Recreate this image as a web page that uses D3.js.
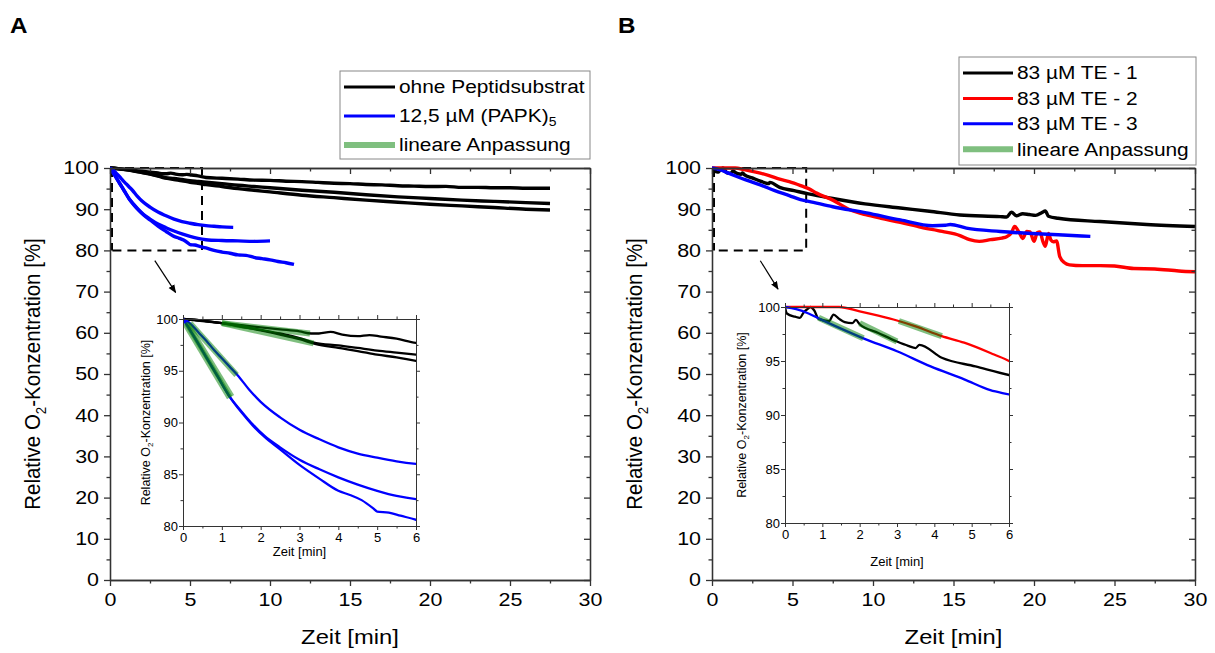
<!DOCTYPE html>
<html><head><meta charset="utf-8">
<script src="https://cdn.jsdelivr.net/npm/d3@7"></script>
<style>body{margin:0;background:#fff} svg{font-family:Arial,"Liberation Sans",sans-serif}</style>
</head><body><svg id="c" width="1215" height="653"></svg>
<script>
// ---------- DATA (time [min], relative O2 [%]) ----------
// Panel A
const ohne1 = [[0,100],[0.5,99.8],[1,99.6],[1.5,99.4],[2,99.2],[2.5,99.0],[3,98.8],[3.3,98.6],[3.5,98.6],[3.8,98.75],[4.1,98.5],[4.5,98.35],[4.8,98.45],[5.1,98.3],[5.5,98.1],[6,97.7],[7,97.5],[8,97.3],[9,97.05],[10,97.0],[11,96.8],[12,96.7],[13,96.5],[14,96.3],[15,96.2],[16,96.0],[17,95.9],[18,95.7],[19,95.6],[20,95.5],[21,95.55],[22,95.3],[23,95.3],[24,95.2],[25,95.2],[26,95.1],[27.5,95.1]];
const ohne2 = [[0,100],[0.5,99.85],[1,99.6],[1.5,99.3],[2,98.95],[2.5,98.6],[3,98.15],[3.4,97.7],[4,97.45],[4.5,97.2],[5,96.95],[5.5,96.75],[6,96.55],[7,96.2],[8,95.8],[9,95.5],[10,95.2],[12,94.6],[14,94.1],[16,93.5],[18,93.0],[20,92.6],[22,92.2],[24,91.9],[26,91.6],[27.5,91.4]];
const ohne3 = [[0,100],[0.5,99.85],[1,99.6],[1.5,99.25],[2,98.9],[2.5,98.5],[3,98.05],[3.4,97.6],[4,97.2],[4.5,96.9],[5,96.55],[5.5,96.3],[6,95.95],[7,95.5],[8,95.0],[9,94.6],[10,94.2],[12,93.4],[14,92.8],[16,92.2],[18,91.7],[20,91.2],[22,90.8],[24,90.4],[26,90.0],[27.5,89.8]];
const papk1 = [[0,100],[0.1,99.8],[0.2,99.5],[0.4,98.7],[0.6,97.9],[0.8,97.0],[1.0,96.2],[1.2,95.4],[1.4,94.6],[1.7,93.2],[2.0,92.0],[2.5,90.5],[3.0,89.3],[3.5,88.4],[4.0,87.6],[4.5,87.0],[5.0,86.6],[5.5,86.25],[6,86.0],[6.5,85.85],[7,85.7],[7.7,85.6]];
const papk2 = [[0,100],[0.07,99.6],[0.3,98.2],[0.6,96.3],[0.9,94.4],[1.2,92.5],[1.5,91.1],[1.8,89.8],[2.1,88.7],[2.5,87.6],[3.0,86.4],[3.5,85.5],[4.0,84.7],[4.5,84.0],[5.0,83.4],[5.5,82.9],[6,82.6],[7,82.4],[8,82.3],[9,82.2],[10,82.3]];
const papk3 = [[0,100],[0.07,99.6],[0.3,98.2],[0.6,96.3],[0.9,94.4],[1.2,92.5],[1.5,91.0],[1.8,89.7],[2.1,88.6],[2.5,87.4],[3.0,85.9],[3.5,84.6],[4.0,83.4],[4.3,83.0],[4.6,82.5],[4.9,81.7],[5.0,81.4],[5.3,81.3],[5.6,81.0],[6,80.6],[6.5,80.0],[7,79.6],[7.5,79.3],[8,78.9],[8.5,78.8],[9,78.3],[9.5,78.0],[10,77.7],[10.5,77.3],[11,77.0],[11.5,76.6]];
const fitsA = [[[1.0,99.6],[3.27,98.6]],[[1.0,99.6],[3.36,97.65]],[[0.18,99.6],[1.38,94.6]],[[0.05,99.6],[1.2,92.4]],[[0.1,99.6],[1.25,92.5]]];
// Panel B
const te1 = [[0,100],[0.05,99.4],[0.27,99.1],[0.4,99.0],[0.5,99.5],[0.6,99.8],[0.68,100],[0.78,99.7],[0.9,98.9],[1.18,98.7],[1.3,99.3],[1.45,98.9],[1.6,98.6],[1.8,98.5],[1.9,98.8],[2.0,98.4],[2.5,97.6],[3.0,96.8],[3.3,96.4],[3.5,96.2],[3.6,96.5],[4.2,95.3],[5.1,94.5],[6,93.7],[7.5,92.6],[9.5,91.3],[11.7,90.3],[13.5,89.5],[15.4,88.6],[17.9,88.2],[18.3,88.1],[18.6,89.3],[18.9,88.4],[19.3,88.9],[19.7,88.7],[20.1,88.5],[20.5,89.2],[20.7,89.6],[20.9,88.3],[21.5,87.8],[24.1,87.0],[27,86.3],[30,85.8]];
const te2 = [[0,100],[1.45,100],[2.0,99.6],[2.5,99.2],[3.0,98.75],[3.5,98.2],[4.2,97.3],[4.8,96.7],[5.6,95.6],[6,95.0],[6.5,93.9],[7.5,92.2],[8.6,89.8],[9.6,88.6],[10.5,87.8],[11.7,86.8],[13,85.6],[14.3,84.6],[15.4,83.6],[16.0,82.6],[16.6,82.2],[17.3,82.6],[18.0,83.0],[18.3,83.3],[18.6,84.3],[18.8,85.8],[19.1,84.2],[19.3,82.9],[19.55,84.6],[19.75,84.5],[20.0,82.2],[20.2,84.3],[20.37,84.5],[20.55,82.2],[20.7,81.0],[20.9,84.1],[21.05,82.5],[21.2,82.1],[21.4,82.3],[21.6,78.5],[21.9,77.0],[22.2,76.5],[23,76.3],[24.1,76.3],[25,76.2],[26.2,75.6],[27.5,75.5],[29,75.0],[30,74.8]];
const te3 = [[0,100],[0.3,99.8],[0.63,99.4],[0.9,98.95],[1.5,98.0],[2.1,97.1],[3.0,95.9],[3.9,94.5],[4.8,93.3],[5.5,92.3],[6,91.9],[7.5,90.6],[9.6,89.1],[11.7,87.4],[13.7,86.0],[14.5,86.1],[14.8,86.3],[15.8,85.4],[17.9,84.6],[19.9,84.1],[21.5,83.8],[23.5,83.4]];
const fitsB = [[[0.9,99.0],[2.1,97.1]],[[2.0,98.5],[3.0,96.8]],[[3.05,98.7],[4.2,97.3]]];
// ticks
const mainXTicks = [0,5,10,15,20,25,30];
const mainYTicks = [0,10,20,30,40,50,60,70,80,90,100];
const insetXTicks = [0,1,2,3,4,5,6];
const insetYTicks = [80,85,90,95,100];
const legendA = ["ohne Peptidsubstrat","12,5 µM (PAPK)","lineare Anpassung"];
const legendB = ["83 µM TE - 1","83 µM TE - 2","83 µM TE - 3","lineare Anpassung"];

const FIT = "rgba(0,128,0,0.5)";
const SX = 1.16;
const svg = d3.select('#c');
svg.append('defs').append('marker').attr('id','ah').attr('viewBox','0 0 10 10').attr('refX',9).attr('refY',5)
  .attr('markerWidth',7).attr('markerHeight',7).attr('orient','auto')
  .append('path').attr('d','M0,1 L10,5 L0,9 Z').attr('fill','#000');

function range(a,b,s){const r=[];for(let v=a;v<=b+1e-9;v+=s)r.push(+v.toFixed(4));return r;}
function stretch(sel, sx){ sel.each(function(){ const t=d3.select(this); const x=+t.attr('x')||0; t.attr('transform',`translate(${x*(1-sx)},0) scale(${sx},1)`);}); }

function frameAxes(g, x, y, box, o){
  const minX = range(x.domain()[0], x.domain()[1], o.xMinor).filter(v=>!o.xt.includes(v));
  const minY = range(y.domain()[0], y.domain()[1], o.yMinor).filter(v=>!o.yt.includes(v));
  const st = s=>s.selectAll('path,line').attr('stroke','#333').attr('stroke-width',o.sw);
  const inS = o.inward ? -1 : 1;
  const fmt = d3.format('~g');
  const bx = g.append('g').attr('transform',`translate(0,${box.b})`).call(d3.axisBottom(x).tickValues(o.xt).tickFormat(fmt).tickSize(o.maj).tickSizeOuter(0).tickPadding(o.pad)).call(st)
    .selectAll('text').attr('font-size',o.fs).attr('fill','#000');
  g.append('g').attr('transform',`translate(0,${box.b})`).call(d3.axisBottom(x).tickValues(minX).tickSize(o.min).tickFormat('').tickSizeOuter(0)).call(st);
  const ly = g.append('g').attr('transform',`translate(${box.l},0)`).call(d3.axisLeft(y).tickValues(o.yt).tickFormat(fmt).tickSize(o.maj).tickSizeOuter(0).tickPadding(o.pad-2)).call(st)
    .selectAll('text').attr('font-size',o.fs).attr('fill','#000');
  if(o.sx){ stretch(bx,o.sx); stretch(ly,o.sx); }
  g.append('g').attr('transform',`translate(${box.l},0)`).call(d3.axisLeft(y).tickValues(minY).tickSize(o.min).tickFormat('').tickSizeOuter(0)).call(st);
  g.append('g').attr('transform',`translate(0,${box.t})`).call(d3.axisTop(x).tickValues(o.xt).tickSize(inS*o.maj).tickFormat('').tickSizeOuter(0)).call(st);
  g.append('g').attr('transform',`translate(0,${box.t})`).call(d3.axisTop(x).tickValues(minX).tickSize(inS*o.min).tickFormat('').tickSizeOuter(0)).call(st);
  g.append('g').attr('transform',`translate(${box.r},0)`).call(d3.axisRight(y).tickValues(o.yt).tickSize(inS*o.maj).tickFormat('').tickSizeOuter(0)).call(st);
  g.append('g').attr('transform',`translate(${box.r},0)`).call(d3.axisRight(y).tickValues(minY).tickSize(inS*o.min).tickFormat('').tickSizeOuter(0)).call(st);
}

function yTitle(g, xpos, ycen, fs, sx){
  const t = g.append('text').attr('transform',`translate(${xpos},${ycen}) scale(${sx},1) rotate(-90)`).attr('text-anchor','middle').attr('font-size',fs).attr('fill','#000');
  t.append('tspan').text('Relative O');
  t.append('tspan').text('2').attr('font-size',fs*0.65).attr('dy',fs*0.25);
  t.append('tspan').text('-Konzentration [%]').attr('dy',-fs*0.25);
}

function panel(cfg){
  const g = svg.append('g');
  const m = cfg.main;
  const x = d3.scaleLinear().domain([0,30]).range([m.l,m.r]);
  const y = d3.scaleLinear().domain([0,100]).range([m.b,m.t]);
  const id = cfg.id;
  g.append('clipPath').attr('id','cm'+id).append('rect').attr('x',m.l).attr('y',m.t-3).attr('width',m.r-m.l).attr('height',m.b-m.t+3);
  const line = d3.line().x(d=>x(d[0])).y(d=>y(d[1])).curve(d3.curveMonotoneX);
  const dr = cfg.dash;
  g.append('path').attr('d',`M${x(0)},${y(dr[1])} H${x(dr[0])} V${y(dr[2])} H${x(0)}`).attr('fill','none').attr('stroke','#000')
    .attr('stroke-width',2).attr('stroke-dasharray','9,6');
  g.append('path').attr('d',`M${x(0)+2},${y(dr[1])} V${y(dr[2])}`).attr('fill','none').attr('stroke','#000')
    .attr('stroke-width',2).attr('stroke-dasharray','9,6');
  const ar = cfg.arrow;
  g.append('line').attr('x1',x(ar[0][0])).attr('y1',y(ar[0][1])).attr('x2',x(ar[1][0])).attr('y2',y(ar[1][1]))
    .attr('stroke','#000').attr('stroke-width',1.2).attr('marker-end','url(#ah)');
  const sg = g.append('g').attr('clip-path',`url(#cm${id})`);
  cfg.series.forEach(s=>sg.append('path').datum(s.data).attr('d',line).attr('fill','none').attr('stroke',s.color).attr('stroke-width',3.4).attr('stroke-linejoin','round'));
  frameAxes(g, x, y, m, {xt:mainXTicks, yt:mainYTicks, xMinor:2.5, yMinor:5, maj:6, min:3.5, pad:7, fs:18.5, sw:1.3, inward:true, sx:SX});
  yTitle(g, cfg.ytx, (m.t+m.b)/2, 20.5, 1.12);
  stretch(g.append('text').attr('x',(m.l+m.r)/2).attr('y',644).attr('text-anchor','middle').attr('font-size',20.5).text('Zeit [min]'), SX);
  // inset
  const b = cfg.inset;
  const xi = d3.scaleLinear().domain([0,6]).range([b.l,b.r]);
  const yi = d3.scaleLinear().domain([80,100]).range([b.b,b.t]);
  g.append('rect').attr('x',b.l).attr('y',b.t).attr('width',b.r-b.l).attr('height',b.b-b.t).attr('fill','#fff');
  g.append('clipPath').attr('id','ci'+id).append('rect').attr('x',b.l).attr('y',b.t-2).attr('width',b.r-b.l).attr('height',b.b-b.t+2);
  const li = d3.line().x(d=>xi(d[0])).y(d=>yi(d[1])).curve(d3.curveMonotoneX);
  const ig = g.append('g').attr('clip-path',`url(#ci${id})`);
  cfg.series.forEach(s=>ig.append('path').datum(s.data).attr('d',li).attr('fill','none').attr('stroke',s.color).attr('stroke-width',2.3).attr('stroke-linejoin','round'));
  cfg.fits.forEach(f=>ig.append('path').datum(f).attr('d',d3.line().x(d=>xi(d[0])).y(d=>yi(d[1]))).attr('fill','none').attr('stroke',FIT).attr('stroke-width',6));
  frameAxes(g, xi, yi, b, {xt:insetXTicks, yt:insetYTicks, xMinor:0.5, yMinor:2.5, maj:4, min:2.5, pad:3, fs:13, sw:1, inward:false});
  yTitle(g, cfg.iytx, (b.t+b.b)/2, 12.5, 1);
  g.append('text').attr('x',(b.l+b.r)/2).attr('y',cfg.ixty).attr('text-anchor','middle').attr('font-size',13).text('Zeit [min]');
  // legend
  const L = cfg.legend;
  g.append('rect').attr('x',L.l).attr('y',L.t).attr('width',L.r-L.l).attr('height',L.b-L.t).attr('fill','#fff').attr('stroke','#888').attr('stroke-width',1);
  L.items.forEach((it,i)=>{
    const yy = L.y0 + i*L.dy;
    g.append('line').attr('x1',L.l+4).attr('x2',L.l+L.len).attr('y1',yy).attr('y2',yy).attr('stroke',it.color).attr('stroke-width',it.w);
    const t = g.append('text').attr('x',L.l+L.len+4).attr('y',yy+6.5).attr('font-size',18).attr('fill','#000').text(it.label);
    if(it.sub) t.append('tspan').text(it.sub).attr('font-size',12).attr('dy',4);
    stretch(t, SX);
  });
  stretch(g.append('text').attr('x',cfg.lab[0]).attr('y',cfg.lab[1]).attr('font-size',22).attr('font-weight','bold').text(id), 1.1);
}

panel({id:'A', main:{l:110,r:590,t:168,b:580}, inset:{l:183,r:416,t:319,b:526},
  series:[{data:ohne1,color:'#000'},{data:ohne2,color:'#000'},{data:ohne3,color:'#000'},
          {data:papk1,color:'#0000ff'},{data:papk2,color:'#0000ff'},{data:papk3,color:'#0000ff'}],
  fits:fitsA, dash:[5.75,100,80], arrow:[[2.8,77.5],[4.1,69.8]], ytx:40, iytx:150, ixty:556,
  legend:{l:340,r:590,t:71,b:159,y0:87,dy:29,len:55,items:[
    {label:legendA[0],color:'#000',w:3},{label:legendA[1],sub:'5',color:'#0000ff',w:3},{label:legendA[2],color:'#7fbf7f',w:6}]},
  lab:[10,33]});

panel({id:'B', main:{l:712,r:1195,t:168,b:580}, inset:{l:785,r:1009,t:307,b:523},
  series:[{data:te1,color:'#000'},{data:te2,color:'#ff0000'},{data:te3,color:'#0000ff'}],
  fits:fitsB, dash:[5.85,100,80], arrow:[[3.0,77.5],[4.1,70.6]], ytx:642, iytx:746, ixty:566,
  legend:{l:959,r:1196,t:57,b:165,y0:73,dy:25.4,len:54,items:[
    {label:legendB[0],color:'#000',w:3},{label:legendB[1],color:'#ff0000',w:3},{label:legendB[2],color:'#0000ff',w:3},{label:legendB[3],color:'#7fbf7f',w:6}]},
  lab:[618,33]});
</script></body></html>
